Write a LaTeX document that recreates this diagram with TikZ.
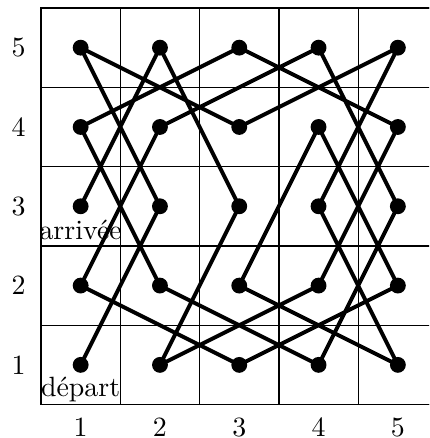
\documentclass[tikz,border=0pt]{standalone}
\usepackage[utf8]{inputenc}
\begin{document}
\begin{tikzpicture}[
  tourline/.style={line width=1.4pt},
  dot/.style={circle,fill=black,inner sep=0pt,minimum size=0.2cm},
  gridline/.style={line width=0.5pt},
  lbl/.style={inner sep=0pt}
]
\clip (-0.517,-0.422) rectangle (4.893,5.101);
\draw[gridline] (0,0) grid (5,5);
\draw[gridline] (0,0) rectangle (5,5);
% points
\foreach \c in {1,...,5}{
  \foreach \r in {1,...,5}{
    \coordinate (p\c\r) at (\c-0.5,\r-0.5);
  }
}
\draw[tourline] (p11) -- (p23) -- (p15) -- (p34) -- (p55) -- (p43) -- (p51)
  -- (p32) -- (p44) -- (p52) -- (p31) -- (p12) -- (p24) -- (p45) -- (p53)
  -- (p41) -- (p22) -- (p14) -- (p35) -- (p54) -- (p42) -- (p21) -- (p33)
  -- (p25) -- (p13);
\foreach \c in {1,...,5}{
  \foreach \r in {1,...,5}{
    \node[dot] (d\c\r) at (p\c\r) {};
  }
}
\foreach \c in {1,...,5}{
  \node[lbl] (col\c) at (\c-0.5,-0.285) {\c};
  \node[lbl] (row\c) at (-0.284,\c-0.5) {\c};
}
\node[lbl,anchor=base] (dep) at (0.5,0.1) {départ};
\node[lbl,anchor=base] (arr) at (0.5,2.076) {arrivée};
\end{tikzpicture}
\end{document}
